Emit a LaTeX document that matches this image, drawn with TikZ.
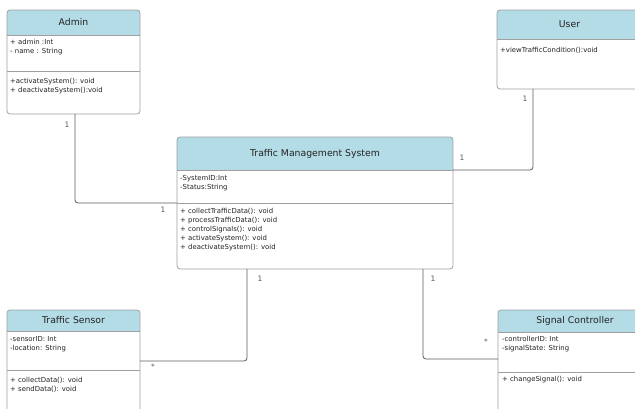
\documentclass[tikz,border=0pt]{standalone}
\usepackage{fontspec}
\setmainfont{DejaVu Sans}
\usetikzlibrary{calc}
\definecolor{hdr}{HTML}{B4DCE6}
\definecolor{bordc}{HTML}{A0A0A0}
\definecolor{connc}{HTML}{5A5A5A}
\definecolor{txtc}{HTML}{222222}
\tikzset{
  boxshape/.style={rectangle, fill=white, inner sep=0pt, outer sep=0pt},
  border/.style={draw=bordc, line width=0.8pt},
  sepline/.style={draw=bordc, line width=0.7pt},
  titletxt/.style={font=\fontsize{9.3}{11}\selectfont, text=txtc, inner sep=0pt},
  memb/.style={font=\fontsize{6.9}{9}\selectfont, text=txtc, align=left, inner sep=0pt, anchor=north west},
  mult/.style={font=\fontsize{7.5}{9}\selectfont, text=connc, inner sep=0pt},
  conn/.style={draw=connc, line width=0.8pt, rounded corners=3pt},
}
\newcommand\classbox[8]{%
  \node[boxshape, minimum width=#4pt, minimum height=#5pt, anchor=north west] (#1) at (#2,#3) {};
  \begin{scope}
    \clip[rounded corners=3pt] (#1.north west) rectangle (#1.south east);
    \fill[hdr] (#1.north west) rectangle ($(#1.north east)+(0,#6)$);
  \end{scope}
  \draw[sepline] ($(#1.north west)+(0,#6)$) -- ($(#1.north east)+(0,#6)$);
  \draw[sepline] ($(#1.north west)+(0,#7)$) -- ($(#1.north east)+(0,#7)$);
  \draw[border, rounded corners=3pt] (#1.north west) rectangle (#1.south east);
  \node[titletxt] (#1-title) at ($(#1.north)+(0,#6/2)$) {#8};
}
\begin{document}
\begin{tikzpicture}[x=1pt, y=-1pt]
\useasboundingbox (0,0) rectangle (635,409);
\clip (0,0) rectangle (635,409);

% classes
\classbox{admin}{7}{10}{133}{104}{25}{61}{Admin}
\node[memb] (admin-attr) at (10,39) {+ admin :Int\\- name : String};
\node[memb] (admin-ops) at (10,78) {+activateSystem(): void\\+ deactivateSystem():void};

\classbox{user}{497}{10}{145}{79}{29}{29}{User}
\node[memb] (user-ops) at (500,47.5) {+viewTrafficCondition():void};

\classbox{tms}{177}{137}{276}{132}{33}{66}{Traffic Management System}
\node[memb] (tms-attr) at (180,175.5) {-SystemID:Int\\-Status:String};
\node[memb] (tms-ops) at (180,208) {+ collectTrafficData(): void\\+ processTrafficData(): void\\+ controlSignals(): void\\+ activateSystem(): void\\+ deactivateSystem(): void};

\classbox{sensor}{7}{310}{133}{130}{21}{60}{Traffic Sensor}
\node[memb] (sensor-attr) at (10,336.5) {-sensorID: Int\\-location: String};
\node[memb] (sensor-ops) at (10,377) {+ collectData(): void\\+ sendData(): void};

\classbox{signal}{498}{310}{154}{130}{22}{62}{Signal Controller}
\node[memb] (signal-attr) at (502,336.5) {-controllerID: Int\\-signalState: String};
\node[memb] (signal-ops) at (502,376.5) {+ changeSignal(): void};

% connectors
\coordinate (c1) at (75,203);
\draw[conn] (admin.south -| c1) |- (tms.west |- c1);
\coordinate (c2) at (533,170);
\draw[conn] (user.south -| c2) |- (tms.east |- c2);
\coordinate (c3) at (247,361);
\draw[conn] (sensor.east |- c3) -| (tms.south -| c3);
\coordinate (c4) at (423,359);
\draw[conn] (tms.south -| c4) |- (signal.west |- c4);

% multiplicities
\node[mult] (m1) at (67,124.5) {1};
\node[mult] (m2) at (163,210) {1};
\node[mult] (m3) at (525,99) {1};
\node[mult] (m4) at (462,158) {1};
\node[mult] (m5) at (153,367) {*};
\node[mult] (m6) at (260,279) {1};
\node[mult] (m7) at (433,279) {1};
\node[mult] (m8) at (486,342) {*};
\end{tikzpicture}
\end{document}
